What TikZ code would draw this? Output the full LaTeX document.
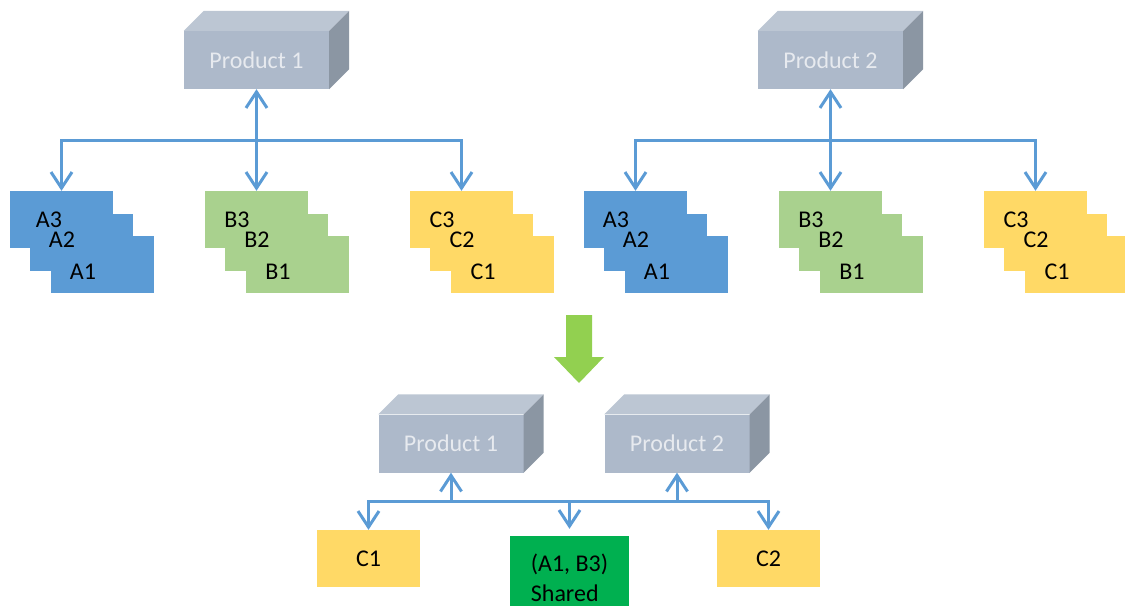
\documentclass[tikz,border=0pt]{standalone}
\usepackage{fontspec}
\setmainfont{Carlito}
\usepackage{xcolor}
\usepackage{tikz}
\usetikzlibrary{
    arrows.meta,
    calc
}

\definecolor{prodfront}{HTML}{ADB9CA}
\definecolor{prodtop}{HTML}{BCC6D3}
\definecolor{prodside}{HTML}{8B96A3}
\definecolor{prodtext}{HTML}{E7EAEF}
\definecolor{cardA}{HTML}{5B9BD5}
\definecolor{cardB}{HTML}{A9D18E}
\definecolor{cardC}{HTML}{FFD966}
\definecolor{sharedgreen}{HTML}{00B050}
\definecolor{linkblue}{HTML}{5B9BD5}
\definecolor{mergegreen}{HTML}{92D050}

\begin{document}
\begin{tikzpicture}[x=1pt, y=-1pt,
        font=\fontsize{24}{27}\selectfont,
        >={Straight Barb[length=16pt, width=21pt]},
        product/.style={fill=prodfront, text=prodtext, minimum width=145pt, minimum height=58pt, inner sep=0pt},
        card/.style={minimum width=103pt, minimum height=57pt, inner sep=0pt},
        conn/.style={draw=linkblue, line width=3pt}]
            \useasboundingbox (0,0) rectangle (1125,607);

            % Top: the two products and their parts
            \foreach \grp/\off in {1/0, 2/574} {
                \node[product] (p\grp) at ({\off+256.5}, 60) {Product \grp};
                \foreach \stk/\ltr/\sx/\col in {a/A/0/cardA, b/B/195/cardB, c/C/400/cardC} {
                    \pgfmathsetmacro\lx{((\grp==1)&&(\sx==0)) ? 39 : 32}
                    \node[card, fill=\col] (\stk3\grp) at ({\off+\sx+61.5}, 219.5) {};
                    \node[card, fill=\col] (\stk2\grp) at ({\off+\sx+81.5}, 242.5) {};
                    \node[card, fill=\col] (\stk1\grp) at ({\off+\sx+102.5}, 264.5) {};
                    \node (t\stk3\grp) at ({\off+\sx+10+\lx}, 220) {\ltr3};
                    \node (t\stk2\grp) at ({\off+\sx+62}, 240) {\ltr2};
                    \node (t\stk1\grp) at ({\off+\sx+83}, 272) {\ltr1};
                }
                % Connectors
                \coordinate (h\grp) at ([yshift=-51pt]p\grp.south);
                \draw[conn, <->] (p\grp.south) -- (b3\grp.north);
                \draw[conn, ->] (h\grp) -| (a3\grp.north);
                \draw[conn, ->] (h\grp) -| (c3\grp.north);
            }

            % Merge arrow
            \fill[mergegreen] (566,315) -- (592,315) -- (592,357) -- (604,357) -- (579,383) -- (554,357) -- (566,357) -- cycle;

            % Bottom: products with the shared part
            \foreach \grp/\cx in {1/451, 2/677} {
                \node[product] (q\grp) at (\cx, 443.5) {Product \grp};
                \coordinate (j\grp) at ([yshift=-29pt]q\grp.south);
                \draw[conn, ->] (j\grp) -- (q\grp.south);
            }
            \node[card, fill=cardC] (pc1) at (368.5, 558.5) {C1};
            \node[card, fill=cardC] (pc2) at (768.5, 558.5) {C2};
            \node[card, fill=sharedgreen, minimum width=119pt, minimum height=70pt, align=left,
                font=\fontsize{24}{30}\selectfont] (sh) at (569.5, 571) {\rule{0pt}{32pt}(A1, B3)\\Shared};

            \draw[conn] (j1) -- (j2);
            \draw[conn, ->] (j1) -| (pc1.north);
            \draw[conn, ->] (j2) -| (pc2.north);
            \draw[conn, ->, shorten >=7pt] (sh.north |- j1) -- (sh.north);

            % Box faces
            \foreach \n in {p1, p2, q1, q2} {
                \fill[prodtop] (\n.north west) -- ++(20,-20) -- ([shift={(20,-20)}]\n.north east) -- (\n.north east) -- cycle;
                \fill[prodside] (\n.north east) -- ++(20,-20) -- ([shift={(20,-20)}]\n.south east) -- (\n.south east) -- cycle;
            }
        \end{tikzpicture}
\end{document}
